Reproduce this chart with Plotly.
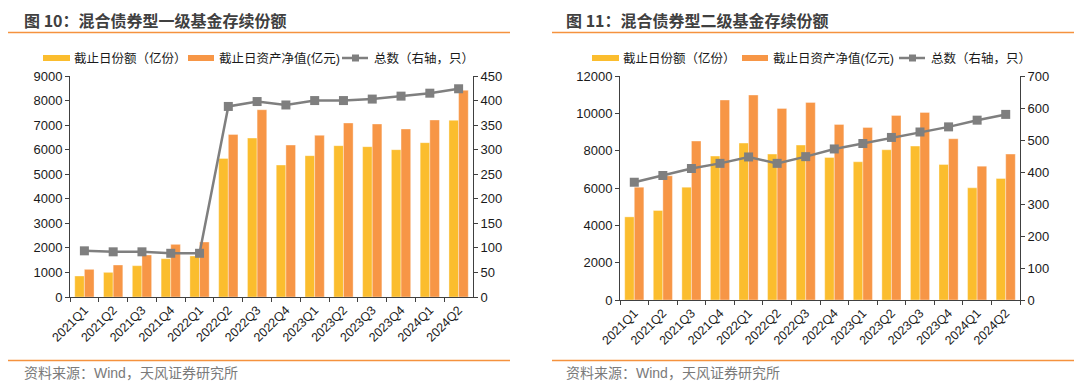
import plotly.graph_objects as go

W, H = 1080, 387

quarters = ["2021Q1", "2021Q2", "2021Q3", "2021Q4", "2022Q1", "2022Q2", "2022Q3",
            "2022Q4", "2023Q1", "2023Q2", "2023Q3", "2023Q4", "2024Q1", "2024Q2"]

# Chart 1: 混合债券型一级
c1_shares = [855, 1004, 1275, 1560, 1669, 5645, 6472, 5373, 5756, 6163, 6122, 6000, 6285, 7195]
c1_nav = [1126, 1303, 1710, 2144, 2239, 6621, 7626, 6187, 6584, 7086, 7045, 6842, 7208, 8416]
c1_count = [94, 92, 92, 89, 89, 388, 398, 391, 400, 400, 403, 409, 415, 424]

# Chart 2: 混合债券型二级
c2_shares = [4453, 4793, 6045, 7708, 8405, 7815, 8298, 7636, 7404, 8048, 8244, 7261, 6009, 6510]
c2_nav = [6045, 6653, 8513, 10712, 10980, 10265, 10587, 9407, 9246, 9890, 10051, 8638, 7171, 7815]
c2_count = [368, 389, 411, 427, 447, 427, 448, 472, 489, 508, 525, 541, 562, 580]

titles = ["图 10：混合债券型一级基金存续份额", "图 11：混合债券型二级基金存续份额"]
series_names = ["截止日份额（亿份）", "截止日资产净值(亿元)", "总数（右轴，只）"]
source_text = "资料来源：Wind，天风证券研究所"

YELLOW = "#FBBD2E"
ORANGE = "#F79646"
GRAY = "#7F7F7F"
RULE = "#F5923E"
FONT = "Liberation Sans, Noto Sans CJK SC, sans-serif"
CJK = "Noto Sans CJK SC, sans-serif"


def px(x):
    return x / W


def py(y):
    return 1 - y / H


fig = go.Figure()

charts = [
    dict(shares=c1_shares, nav=c1_nav, count=c1_count, xa="x", ya="y", ya2="y2"),
    dict(shares=c2_shares, nav=c2_nav, count=c2_count, xa="x2", ya="y3", ya2="y4"),
]
for c in charts:
    fig.add_trace(go.Bar(x=quarters, y=c["shares"], name=series_names[0], marker_color=YELLOW,
                         marker_line=dict(color="rgba(255,255,255,0.45)", width=0.8),
                         xaxis=c["xa"], yaxis=c["ya"], showlegend=False, offsetgroup="a"))
    fig.add_trace(go.Bar(x=quarters, y=c["nav"], name=series_names[1], marker_color=ORANGE,
                         marker_line=dict(color="rgba(255,255,255,0.45)", width=0.8),
                         xaxis=c["xa"], yaxis=c["ya"], showlegend=False, offsetgroup="b"))
    fig.add_trace(go.Scatter(x=quarters, y=c["count"], name=series_names[2], mode="lines+markers",
                             line=dict(color=GRAY, width=2.5),
                             marker=dict(symbol="square", size=9, color=GRAY),
                             xaxis=c["xa"], yaxis=c["ya2"], showlegend=False))

axis_common = dict(showline=True, linecolor="#404040", linewidth=1, ticks="outside",
                   ticklen=4, tickcolor="#404040", showgrid=False, zeroline=False,
                   automargin=False, tickformat="d",
                   tickfont=dict(family=FONT, size=13, color="#1a1a1a"))
xaxis_common = dict(showline=True, linecolor="#404040", linewidth=1, ticks="outside",
                    ticklen=4, tickcolor="#404040", showgrid=False, zeroline=False,
                    automargin=False, type="category", tickangle=-45, tickson="boundaries",
                    range=[-0.5, len(quarters) - 0.5],
                    tickfont=dict(family=FONT, size=12.5, color="#1a1a1a"))

d1 = [px(70), px(473)]
d2 = [px(620), px(1020)]
yd1 = [py(297), py(76)]
yd2 = [py(300), py(76)]

fig.update_layout(
    width=W, height=H, autosize=False,
    margin=dict(l=0, r=0, t=0, b=0, pad=0, autoexpand=False),
    paper_bgcolor="white", plot_bgcolor="white",
    barmode="group", bargap=0.33, bargroupgap=0,
    showlegend=False,
    font=dict(family=FONT),
    xaxis=dict(xaxis_common, domain=d1, anchor="y"),
    yaxis=dict(axis_common, domain=yd1, range=[0, 9000], dtick=1000, anchor="x"),
    yaxis2=dict(axis_common, domain=yd1, range=[0, 450], dtick=50, overlaying="y",
                side="right", anchor="x"),
    xaxis2=dict(xaxis_common, domain=d2, anchor="y3"),
    yaxis3=dict(axis_common, domain=yd2, range=[0, 12000], dtick=2000, anchor="x2"),
    yaxis4=dict(axis_common, domain=yd2, range=[0, 700], dtick=100, overlaying="y3",
                side="right", anchor="x2"),
)

shapes = []
annotations = []

# Titles, rules, sources
for title, tx, rx0, rx1 in [(titles[0], 22, 8, 510), (titles[1], 564, 552, 1074)]:
    annotations.append(dict(text=f"<b>{title}</b>", x=px(tx), y=py(20), xref="paper", yref="paper",
                            xanchor="left", yanchor="middle", align="left", showarrow=False,
                            font=dict(family=CJK, size=16, color="#404040")))
    shapes.append(dict(type="line", xref="paper", yref="paper", x0=px(rx0), x1=px(rx1),
                       y0=py(32.5), y1=py(32.5), line=dict(color=RULE, width=1.5)))
    shapes.append(dict(type="line", xref="paper", yref="paper", x0=px(rx0), x1=px(rx1),
                       y0=py(360.5), y1=py(360.5), line=dict(color=RULE, width=1.5)))
    annotations.append(dict(text=source_text, x=px(tx), y=py(373), xref="paper", yref="paper",
                            xanchor="left", yanchor="middle", align="left", showarrow=False,
                            font=dict(family=FONT, size=14, color="#7a7a7a")))

# Custom legends (wide swatches like the original)
LY = 58
for x_items in [(43, 188, 342), (592, 742, 899)]:
    xs_y, xs_o, xs_l = x_items
    shapes.append(dict(type="rect", xref="paper", yref="paper", x0=px(xs_y), x1=px(xs_y + 27),
                       y0=py(LY + 3), y1=py(LY - 3), fillcolor=YELLOW, line=dict(width=0)))
    shapes.append(dict(type="rect", xref="paper", yref="paper", x0=px(xs_o), x1=px(xs_o + 26),
                       y0=py(LY + 3), y1=py(LY - 3), fillcolor=ORANGE, line=dict(width=0)))
    shapes.append(dict(type="line", xref="paper", yref="paper", x0=px(xs_l), x1=px(xs_l + 26),
                       y0=py(LY), y1=py(LY), line=dict(color=GRAY, width=2.5)))
    shapes.append(dict(type="rect", xref="paper", yref="paper", x0=px(xs_l + 10), x1=px(xs_l + 17),
                       y0=py(LY + 3.5), y1=py(LY - 3.5), fillcolor=GRAY, line=dict(width=0)))
    for name, tx in zip(series_names, (xs_y + 29, xs_o + 29, xs_l + 30)):
        annotations.append(dict(text=name, x=px(tx), y=py(LY), xref="paper", yref="paper",
                                xanchor="left", yanchor="middle", align="left", showarrow=False,
                                font=dict(family=FONT, size=12.5, color="#1a1a1a")))

fig.update_layout(shapes=shapes, annotations=annotations)

fig.write_html(
    "out.html",
    config={"displayModeBar": False, "staticPlot": True},
    post_script="document.body.style.margin='0';document.body.style.overflow='hidden';",
)
